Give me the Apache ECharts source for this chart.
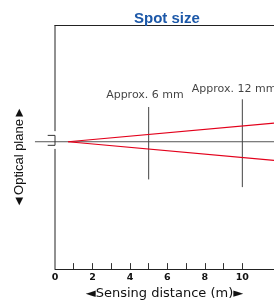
<!DOCTYPE html>
<html>
<head>
<meta charset="utf-8">
<script src="https://cdn.jsdelivr.net/npm/echarts@6/dist/echarts.min.js"></script>
<style>
  html, body { margin: 0; padding: 0; background: #fff; }
  #chart { width: 274px; height: 305px; }
</style>
</head>
<body>
<div id="chart"></div>
<script>
// ==========================
// data (x: sensing distance in m, y: spot offset in mm)
// ==========================
var xTickValues = [1, 2, 3, 4, 5, 6, 7, 8, 9, 10];
var xLabelValues = [0, 2, 4, 6, 8, 10];
var opticalAxis = [[-1.07, 0], [11.69, 0]];
var emitter = [[-0.39, 2.4], [0, 2.4], [0, -1.35], [-0.39, -1.35]];
var plateUpper = [[0, 44], [0, 4.0]];
var plateLower = [[0, -2.7], [0, -48]];
var spot5m = [[5, 13.1], [5, -14.2]];
var spot10m = [[10, 16.0], [10, -17.1]];
var beamUpper = [[0.7, 0], [11.69, 7.0]];
var beamLower = [[0.7, 0], [11.69, -7.0]];
var notes = [
    { value: [4.8, 17.5], name: 'Approx. 6 mm' },
    { value: [9.56, 19.7], name: 'Approx. 12 mm' }
];

var chart = echarts.init(document.getElementById('chart'));

function seg(data, color, width) {
    return {
        type: 'line',
        data: data,
        symbol: 'none',
        silent: true,
        lineStyle: { color: color, width: width },
        animation: false
    };
}

var option = {
    animation: false,
    title: {
        text: 'Spot size',
        left: 129,
        top: 6,
        textStyle: {
            fontFamily: 'Liberation Sans',
            fontSize: 15,
            fontWeight: 'bold',
            color: '#1c58a8'
        }
    },
    grid: {
        left: 55,
        right: 0,
        top: 25,
        bottom: 34
    },
    xAxis: [{
        type: 'value',
        min: 0,
        max: 11.69,
        name: '◄Sensing distance (m)►',
        nameLocation: 'middle',
        nameGap: 14,
        nameTextStyle: {
            fontFamily: 'DejaVu Sans',
            fontSize: 13,
            color: '#111'
        },
        axisLine: { show: true, onZero: false, lineStyle: { color: '#222', width: 1 } },
        axisTick: {
            show: true,
            inside: true,
            length: 6,
            customValues: xTickValues,
            lineStyle: { color: '#333' }
        },
        axisLabel: {
            customValues: xLabelValues,
            margin: 3,
            fontFamily: 'DejaVu Sans',
            fontWeight: 'bold',
            fontSize: 9.5,
            color: '#111'
        },
        splitLine: { show: false }
    }, {
        type: 'value',
        position: 'top',
        min: 0,
        max: 11.69,
        axisLine: { show: true, onZero: false, lineStyle: { color: '#222', width: 1 } },
        axisTick: { show: false },
        axisLabel: { show: false },
        splitLine: { show: false }
    }],
    yAxis: {
        type: 'value',
        min: -48,
        max: 44,
        axisLine: { show: false },
        axisTick: { show: false },
        axisLabel: { show: false },
        splitLine: { show: false }
    },
    series: [
        seg(spot5m, '#444', 1),
        seg(spot10m, '#444', 1),
        seg(beamUpper, '#e3001b', 1.2),
        seg(beamLower, '#e3001b', 1.2),
        {
            type: 'scatter',
            data: notes,
            symbolSize: 0,
            silent: true,
            clip: false,
            label: {
                show: true,
                position: 'inside',
                formatter: '{b}',
                fontFamily: 'DejaVu Sans',
                fontSize: 11,
                color: '#111'
            }
        }
    ]
};

chart.setOption(option);

// parts that sit on or outside the left edge: placed through the grid's scales
function toPx(points) {
    return points.map(function(p) {
        return chart.convertToPixel({ gridIndex: 0 }, p);
    });
}

function poly(points, color) {
    return {
        type: 'polyline',
        silent: true,
        z: 1,
        shape: { points: toPx(points) },
        style: { stroke: color, lineWidth: 1, fill: null }
    };
}

chart.setOption({
    graphic: [
        poly(opticalAxis, '#555'),
        poly(plateUpper, '#222'),
        poly(plateLower, '#222'),
        poly(emitter, '#333'),
        {
            type: 'text',
            x: 19,
            y: 157,
            rotation: Math.PI / 2,
            style: {
                text: '◄Optical plane►',
                fontFamily: 'Liberation Sans',
                fontSize: 13,
                fill: '#111',
                align: 'center',
                verticalAlign: 'middle'
            }
        }
    ]
});
</script>
</body>
</html>
